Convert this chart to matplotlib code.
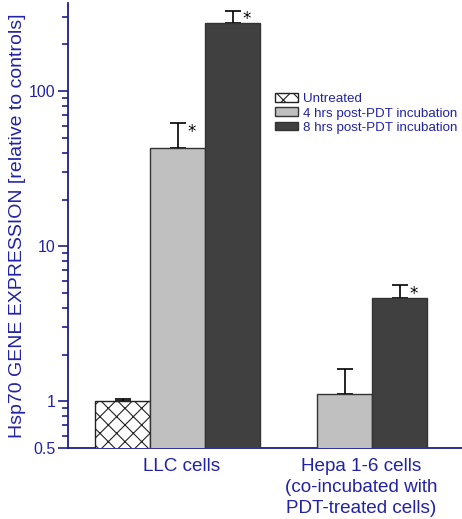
import matplotlib
matplotlib.use("Agg")
import matplotlib.pyplot as plt
import numpy as np

groups = ["LLC cells", "Hepa 1-6 cells\n(co-incubated with\nPDT-treated cells)"]
series = ["Untreated", "4 hrs post-PDT incubation", "8 hrs post-PDT incubation"]
# values per series for each group (None = not measured)
untreated = [1.0, None]
hrs4 = [43.0, 1.11]
hrs8 = [275.0, 4.62]
# upper error (absolute top of error bar)
untreated_err_top = [1.03, None]
hrs4_err_top = [62.0, 1.61]
hrs8_err_top = [328.0, 5.6]
significant = {"Untreated": [False, False],
               "4 hrs post-PDT incubation": [True, False],
               "8 hrs post-PDT incubation": [True, True]}
yticks = [0.5, 1, 10, 100]
yticklabels = ["0.5", "1", "10", "100"]

BLUE = "#2222a6"
SPINE = "#1c1c8c"
plt.rcParams['font.family'] = ['Liberation Sans', 'DejaVu Sans']
plt.rcParams['hatch.linewidth'] = 0.8

fig = plt.figure(figsize=(4.62, 5.19), dpi=100)
ax = fig.add_axes([68/462, (519-448)/519, (462-68)/462, (448-3)/519])

width = 0.33
offsets = [-width, 0, width]
styles = [dict(facecolor="white", edgecolor="#222222", hatch="xx"),
          dict(facecolor="#c0c0c0", edgecolor="#333333"),
          dict(facecolor="#404040", edgecolor="#333333")]
vals = [untreated, hrs4, hrs8]
tops = [untreated_err_top, hrs4_err_top, hrs8_err_top]
x = np.arange(len(groups))
for si, name in enumerate(series):
    xs, hs, errs = [], [], []
    for gi in range(len(groups)):
        v = vals[si][gi]
        if v is None:
            continue
        xs.append(x[gi] + offsets[si])
        hs.append(v)
        errs.append(tops[si][gi] - v)
    ax.bar(xs, hs, width=width, bottom=0.0001, label=name, linewidth=1.0, zorder=3, **styles[si])
    ax.errorbar(xs, hs, yerr=[np.zeros(len(errs)), errs], fmt="none", ecolor="black",
                elinewidth=1.2, capsize=6, capthick=1.2, zorder=2)
    for gi in range(len(groups)):
        if vals[si][gi] is not None and significant[name][gi]:
            ax.annotate("*", xy=(x[gi] + offsets[si], tops[si][gi]), xytext=(10, -6),
                        textcoords="offset points", fontsize=12, ha="center", va="center",
                        color="black", family="DejaVu Sans")

ax.set_yscale("log")
ax.set_ylim(0.5, 370)
ax.set_xlim(-0.66, 1.705)
ax.set_yticks(yticks)
ax.set_yticklabels(yticklabels)
ax.yaxis.set_minor_locator(matplotlib.ticker.LogLocator(base=10, subs=np.arange(2, 10)))
ax.yaxis.set_minor_formatter(matplotlib.ticker.NullFormatter())
ax.tick_params(axis="y", which="major", direction="out", length=7, width=1.2,
               color=SPINE, labelcolor=BLUE, labelsize=11.5, pad=2)
ax.tick_params(axis="y", which="minor", direction="out", length=4, width=1.2, color=SPINE)
ax.set_xticks([0.02, 1.1])
ax.set_xticklabels(groups, fontsize=13.6, color=BLUE, linespacing=1.33)
ax.tick_params(axis="x", length=0, pad=7)
for s in ["top", "right"]:
    ax.spines[s].set_visible(False)
for s in ["left", "bottom"]:
    ax.spines[s].set_color(SPINE)
    ax.spines[s].set_linewidth(1.3)
ax.set_ylabel("Hsp70 GENE EXPRESSION [relative to controls]", color=BLUE, fontsize=14, labelpad=2)

leg = ax.legend(loc="upper left", bbox_to_anchor=(270/462, 1 - 88/519), bbox_transform=fig.transFigure,
                frameon=False, fontsize=9.6, handlelength=1.7, handleheight=0.65,
                handletextpad=0.4, labelspacing=0.15, borderaxespad=0)
for t in leg.get_texts():
    t.set_color(BLUE)

fig.savefig("out.png", dpi=100)
